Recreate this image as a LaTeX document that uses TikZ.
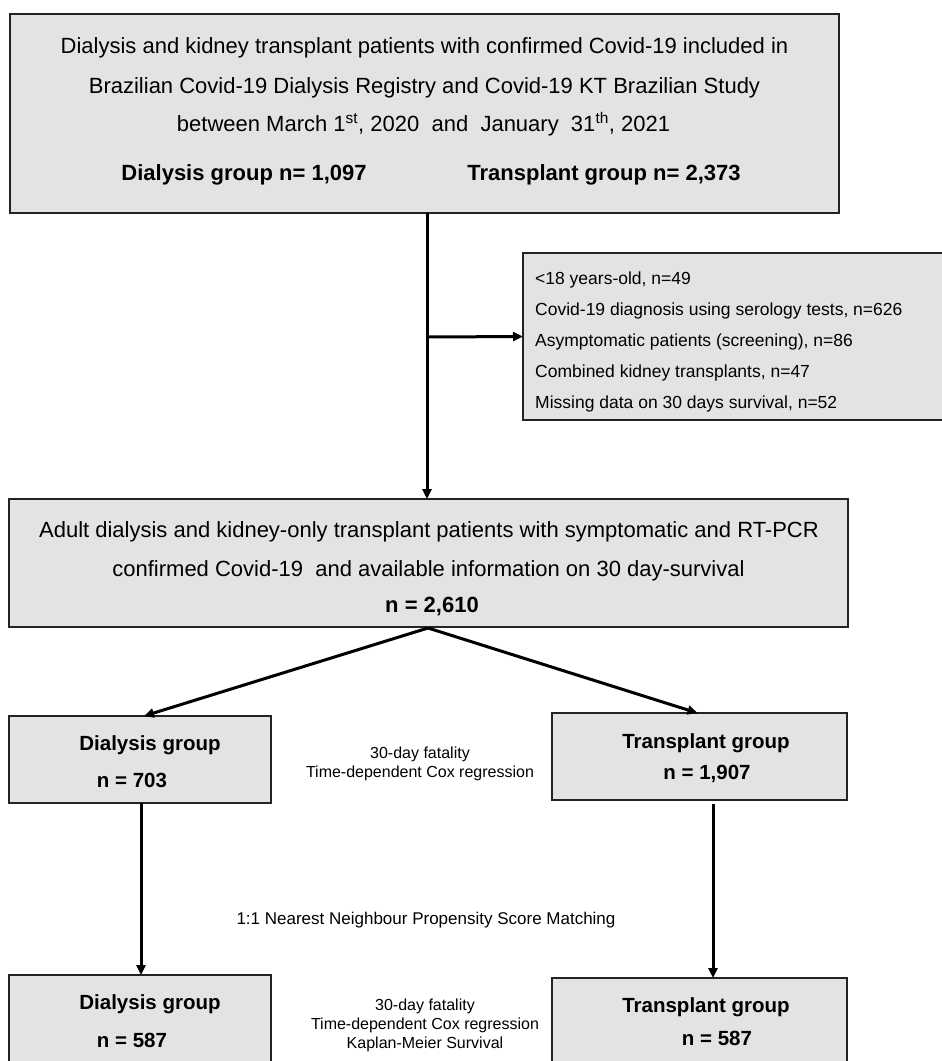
\documentclass[tikz,border=0pt]{standalone}
\usepackage{fontspec}
\setmainfont{Liberation Sans}
\usetikzlibrary{arrows.meta}
\definecolor{boxfill}{RGB}{227,227,227}
\definecolor{boxline}{RGB}{35,35,35}
\tikzset{
  box/.style={draw=boxline, line width=2pt, fill=boxfill, rectangle, inner sep=0pt, outer sep=0pt},
  big/.style={anchor=base, inner sep=0pt, font=\fontsize{22}{26}\selectfont},
  bigb/.style={anchor=base, inner sep=0pt, font=\fontsize{22}{26}\selectfont\bfseries},
  grp/.style={anchor=base, inner sep=0pt, font=\fontsize{20.5}{24}\selectfont\bfseries},
  excl/.style={anchor=base west, inner sep=0pt, font=\fontsize{17.5}{21}\selectfont},
  small/.style={anchor=base, inner sep=0pt, font=\fontsize{16}{19}\selectfont},
  conn/.style={line width=3pt, -{Triangle[length=10pt,width=9pt]}}
}
\begin{document}
\begin{tikzpicture}[x=1pt,y=-1pt]
\useasboundingbox (0,0) rectangle (942,1061);
% boxes
\node[box, minimum width=829pt, minimum height=199pt] (top) at (424.5,113.5) {};
\node[box, minimum width=423pt, minimum height=167pt] (ex) at (734.5,336.5) {};
\node[box, minimum width=839pt, minimum height=128pt] (mid) at (428.5,563) {};
\node[box, minimum width=262pt, minimum height=87pt] (dl) at (140,759.5) {};
\node[box, minimum width=295pt, minimum height=87pt] (tr) at (699.5,756.5) {};
\node[box, minimum width=262pt, minimum height=100pt] (dl2) at (140,1025) {};
\node[box, minimum width=295pt, minimum height=100pt] (tr2) at (699.5,1028) {};
% top box text
\node[big] (t1) at (424.5,53) {Dialysis and kidney transplant patients with confirmed Covid-19 included in};
\node[big] (t2) at (424.5,93) {Brazilian Covid-19 Dialysis Registry and Covid-19 KT Brazilian Study};
\node[big] (t3) at (423.5,131) {between March 1\textsuperscript{st}, 2020\ \ and\ \ January\ \ 31\textsuperscript{th}, 2021};
\node[bigb] (t4) at (244,180) {Dialysis group n= 1,097};
\node[bigb] (t5) at (604,180) {Transplant group n= 2,373};
% exclusion text
\node[excl] (e1) at (535,284) {<18 years-old, n=49};
\node[excl] (e2) at (535,315) {Covid-19 diagnosis using serology tests, n=626};
\node[excl] (e3) at (535,346) {Asymptomatic patients (screening), n=86};
\node[excl] (e4) at (535,377) {Combined kidney transplants, n=47};
\node[excl] (e5) at (535,408) {Missing data on 30 days survival, n=52};
% middle box text
\node[big] (m1) at (429,537) {Adult dialysis and kidney-only transplant patients with symptomatic and RT-PCR};
\node[big] (m2) at (428.5,576) {confirmed Covid-19\ \ and available information on 30 day-survival};
\node[bigb] (m3) at (432,612) {n = 2,610};
% group boxes
\node[grp] (d1) at (150,750) {Dialysis group};
\node[grp] (d2) at (132,787) {n = 703};
\node[grp] (r1) at (706,748) {Transplant group};
\node[grp] (r2) at (707,779) {n = 1,907};
\node[small] (c1) at (420,758) {30-day fatality};
\node[small] (c2) at (420,777) {Time-dependent Cox regression};
\node[anchor=base, inner sep=0pt, font=\fontsize{17}{20}\selectfont] (psm) at (426,924) {1:1 Nearest Neighbour Propensity Score Matching};
\node[grp] (d3) at (150,1009) {Dialysis group};
\node[grp] (d4) at (132,1047) {n = 587};
\node[grp] (r3) at (706,1012) {Transplant group};
\node[grp] (r4) at (717,1045) {n = 587};
\node[small] (k1) at (425,1010) {30-day fatality};
\node[small] (k2) at (425,1029) {Time-dependent Cox regression};
\node[small] (k3) at (425,1048) {Kaplan-Meier Survival};
% connectors
\coordinate (br) at (427,337);
\draw[conn] ([xshift=2.5pt]top.south) -- ([xshift=-1.5pt]mid.north);
\draw[conn] (br) -- (ex.west);
\draw[conn] ([xshift=-0.5pt,yshift=-1pt]mid.south) -- ([xshift=4pt]dl.north);
\draw[conn] ([xshift=-0.5pt,yshift=-1pt]mid.south) -- ([xshift=-2pt]tr.north);
\draw[conn] ([xshift=1pt]dl.south) -- ([xshift=1pt]dl2.north);
\draw[conn] ([xshift=13.5pt,yshift=-4pt]tr.south) -- ([xshift=13.5pt]tr2.north);
\end{tikzpicture}
\end{document}
